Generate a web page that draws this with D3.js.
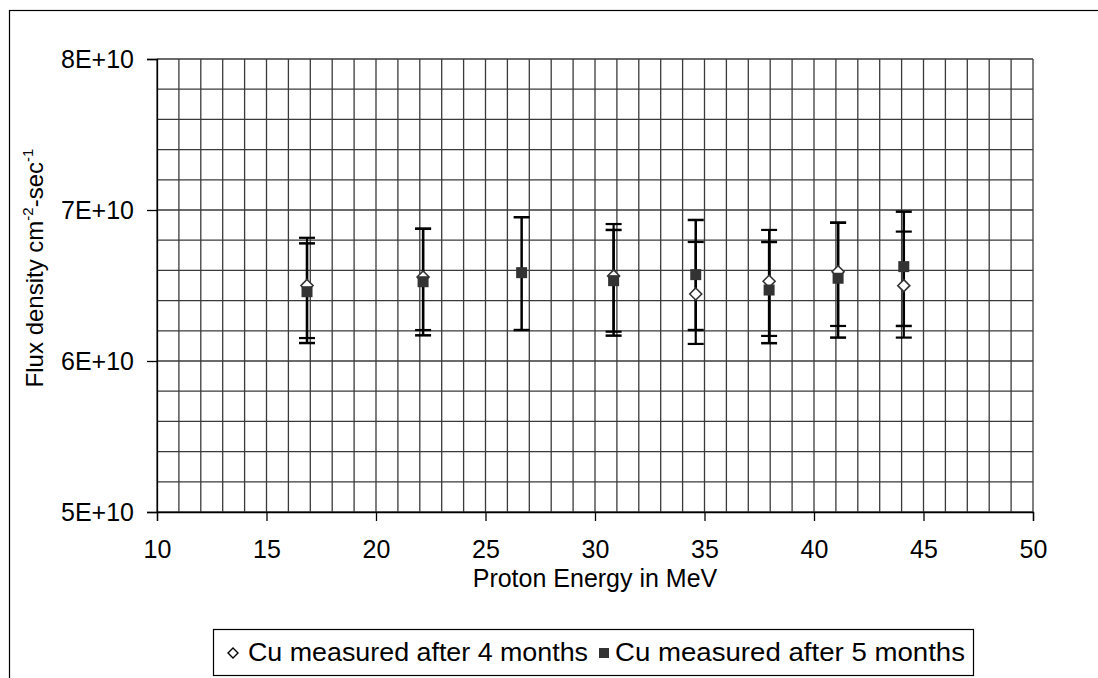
<!DOCTYPE html>
<html>
<head>
<meta charset="utf-8">
<script src="https://cdn.jsdelivr.net/npm/d3@7"></script>
<style>
  body { margin: 0; background: #fff; }
  text { font-family: "Liberation Sans", Arial, sans-serif; fill: #000; }
</style>
</head>
<body>
<svg id="chart" width="1098" height="678"></svg>
<script>
// proton energies (MeV)
const energies4 = [16.85, 22.15, 30.85, 34.6, 37.95, 41.1, 44.1];
const energies5 = [16.85, 22.15, 26.65, 30.85, 34.6, 37.95, 41.1, 44.1];

// flux density in units of 1E+10
const flux4 = [6.50, 6.556, 6.563, 6.444, 6.528, 6.591, 6.499];
const upper4 = [6.816, 6.876, 6.907, 6.788, 6.868, 6.916, 6.857];
const lower4 = [6.152, 6.205, 6.194, 6.113, 6.166, 6.232, 6.155];

const flux5 = [6.459, 6.525, 6.585, 6.532, 6.572, 6.470, 6.548, 6.625];
const upper5 = [6.779, 6.876, 6.952, 6.868, 6.934, 6.788, 6.916, 6.989];
const lower5 = [6.119, 6.170, 6.205, 6.168, 6.205, 6.118, 6.155, 6.232];

const yTickLabels = ["5E+10", "6E+10", "7E+10", "8E+10"];
const legendLabels = ["Cu  measured after 4 months", "Cu measured after 5 months"];

const svg = d3.select("#chart");
const margin = {left: 157, top: 59, right: 1033, bottom: 512};
const fontSize = 25;

// outer chart border
svg.append("rect")
    .attr("x", 9.5).attr("y", 10.5)
    .attr("width", 1100).attr("height", 700)
    .attr("fill", "none").attr("stroke", "#000").attr("stroke-width", 1.2);

const x = d3.scaleLinear().domain([10, 50]).range([margin.left, margin.right]);
const y = d3.scaleLinear().domain([5, 8]).range([margin.bottom, margin.top]);

// grid
const grid = svg.append("g").attr("stroke", "#3a3a3a").attr("stroke-width", 1.3);
grid.selectAll(".vx")
    .data(d3.range(10, 51, 1))
    .join("line")
    .attr("x1", d => x(d)).attr("x2", d => x(d))
    .attr("y1", margin.top).attr("y2", margin.bottom);
grid.selectAll(".hy")
    .data(d3.range(5, 8.01, 0.2))
    .join("line")
    .attr("x1", margin.left).attr("x2", margin.right)
    .attr("y1", d => y(d)).attr("y2", d => y(d));

// axes
svg.append("g")
    .attr("transform", `translate(0,${margin.bottom})`)
    .call(d3.axisBottom(x).tickValues(d3.range(10, 51, 5)).tickSize(9).tickPadding(19))
    .call(g => g.select(".domain").attr("stroke", "#000").attr("stroke-width", 1.3))
    .call(g => g.selectAll(".tick line").attr("stroke", "#000").attr("stroke-width", 1.3))
    .call(g => g.selectAll("text").attr("font-size", fontSize).attr("font-family", "Liberation Sans, Arial"));

svg.append("g")
    .attr("transform", `translate(${margin.left},0)`)
    .call(d3.axisLeft(y).tickValues([5, 6, 7, 8]).tickFormat((d, i) => yTickLabels[i]).tickSize(10).tickPadding(13))
    .call(g => g.select(".domain").attr("stroke", "#000").attr("stroke-width", 1.3))
    .call(g => g.selectAll(".tick line").attr("stroke", "#000").attr("stroke-width", 1.3))
    .call(g => g.selectAll("text").attr("font-size", fontSize).attr("font-family", "Liberation Sans, Arial"));

// axis titles
svg.append("text")
    .attr("x", x(30)).attr("y", 587)
    .attr("text-anchor", "middle")
    .attr("font-size", fontSize)
    .text("Proton Energy in MeV");

const yTitle = svg.append("text")
    .attr("transform", "translate(43,268) rotate(-90)")
    .attr("text-anchor", "middle")
    .attr("font-size", 24);
yTitle.append("tspan").text("Flux density cm");
yTitle.append("tspan").attr("dy", -10).attr("font-size", 15).text("-2");
yTitle.append("tspan").attr("dy", 10).text("-sec");
yTitle.append("tspan").attr("dy", -10).attr("font-size", 15).text("-1");

// error bars
function errorBars(energies, lows, highs, width) {
    const g = svg.append("g").attr("stroke", "#000").attr("stroke-width", width);
    const rows = energies.map((e, i) => ({e, lo: lows[i], hi: highs[i]}));
    g.selectAll(".bar").data(rows).join("line")
        .attr("x1", d => x(d.e)).attr("x2", d => x(d.e))
        .attr("y1", d => y(d.lo)).attr("y2", d => y(d.hi));
    g.selectAll(".capHi").data(rows).join("line")
        .attr("x1", d => x(d.e) - 8).attr("x2", d => x(d.e) + 8)
        .attr("y1", d => y(d.hi)).attr("y2", d => y(d.hi));
    g.selectAll(".capLo").data(rows).join("line")
        .attr("x1", d => x(d.e) - 8).attr("x2", d => x(d.e) + 8)
        .attr("y1", d => y(d.lo)).attr("y2", d => y(d.lo));
}
errorBars(energies4, lower4, upper4, 2.2);
errorBars(energies5, lower5, upper5, 2.5);

// diamonds (4 months)
const diamond = "M0,-6L6,0L0,6L-6,0Z";
svg.append("g").selectAll("path")
    .data(energies4.map((e, i) => [e, flux4[i]]))
    .join("path")
    .attr("d", diamond)
    .attr("transform", d => `translate(${x(d[0])},${y(d[1])})`)
    .attr("fill", "#fff").attr("stroke", "#333").attr("stroke-width", 1.6);

// squares (5 months)
svg.append("g").selectAll("rect")
    .data(energies5.map((e, i) => [e, flux5[i]]))
    .join("rect")
    .attr("x", d => x(d[0]) - 5.5).attr("y", d => y(d[1]) - 5.5)
    .attr("width", 11).attr("height", 11)
    .attr("fill", "#333");

// legend
const leg = svg.append("g");
leg.append("rect")
    .attr("x", 213.5).attr("y", 629.5).attr("width", 760).attr("height", 46)
    .attr("fill", "#fff").attr("stroke", "#000").attr("stroke-width", 1.2);
leg.append("path")
    .attr("d", "M0,-5L5,0L0,5L-5,0Z")
    .attr("transform", "translate(233,653)")
    .attr("fill", "#fff").attr("stroke", "#000").attr("stroke-width", 1.4);
leg.append("text").attr("x", 248).attr("y", 661).attr("font-size", fontSize)
    .attr("textLength", 340).attr("lengthAdjust", "spacingAndGlyphs")
    .text(legendLabels[0]);
leg.append("rect").attr("x", 599).attr("y", 648).attr("width", 10).attr("height", 10).attr("fill", "#333");
leg.append("text").attr("x", 615).attr("y", 661).attr("font-size", fontSize)
    .attr("textLength", 350).attr("lengthAdjust", "spacingAndGlyphs")
    .text(legendLabels[1]);
</script>
</body>
</html>
